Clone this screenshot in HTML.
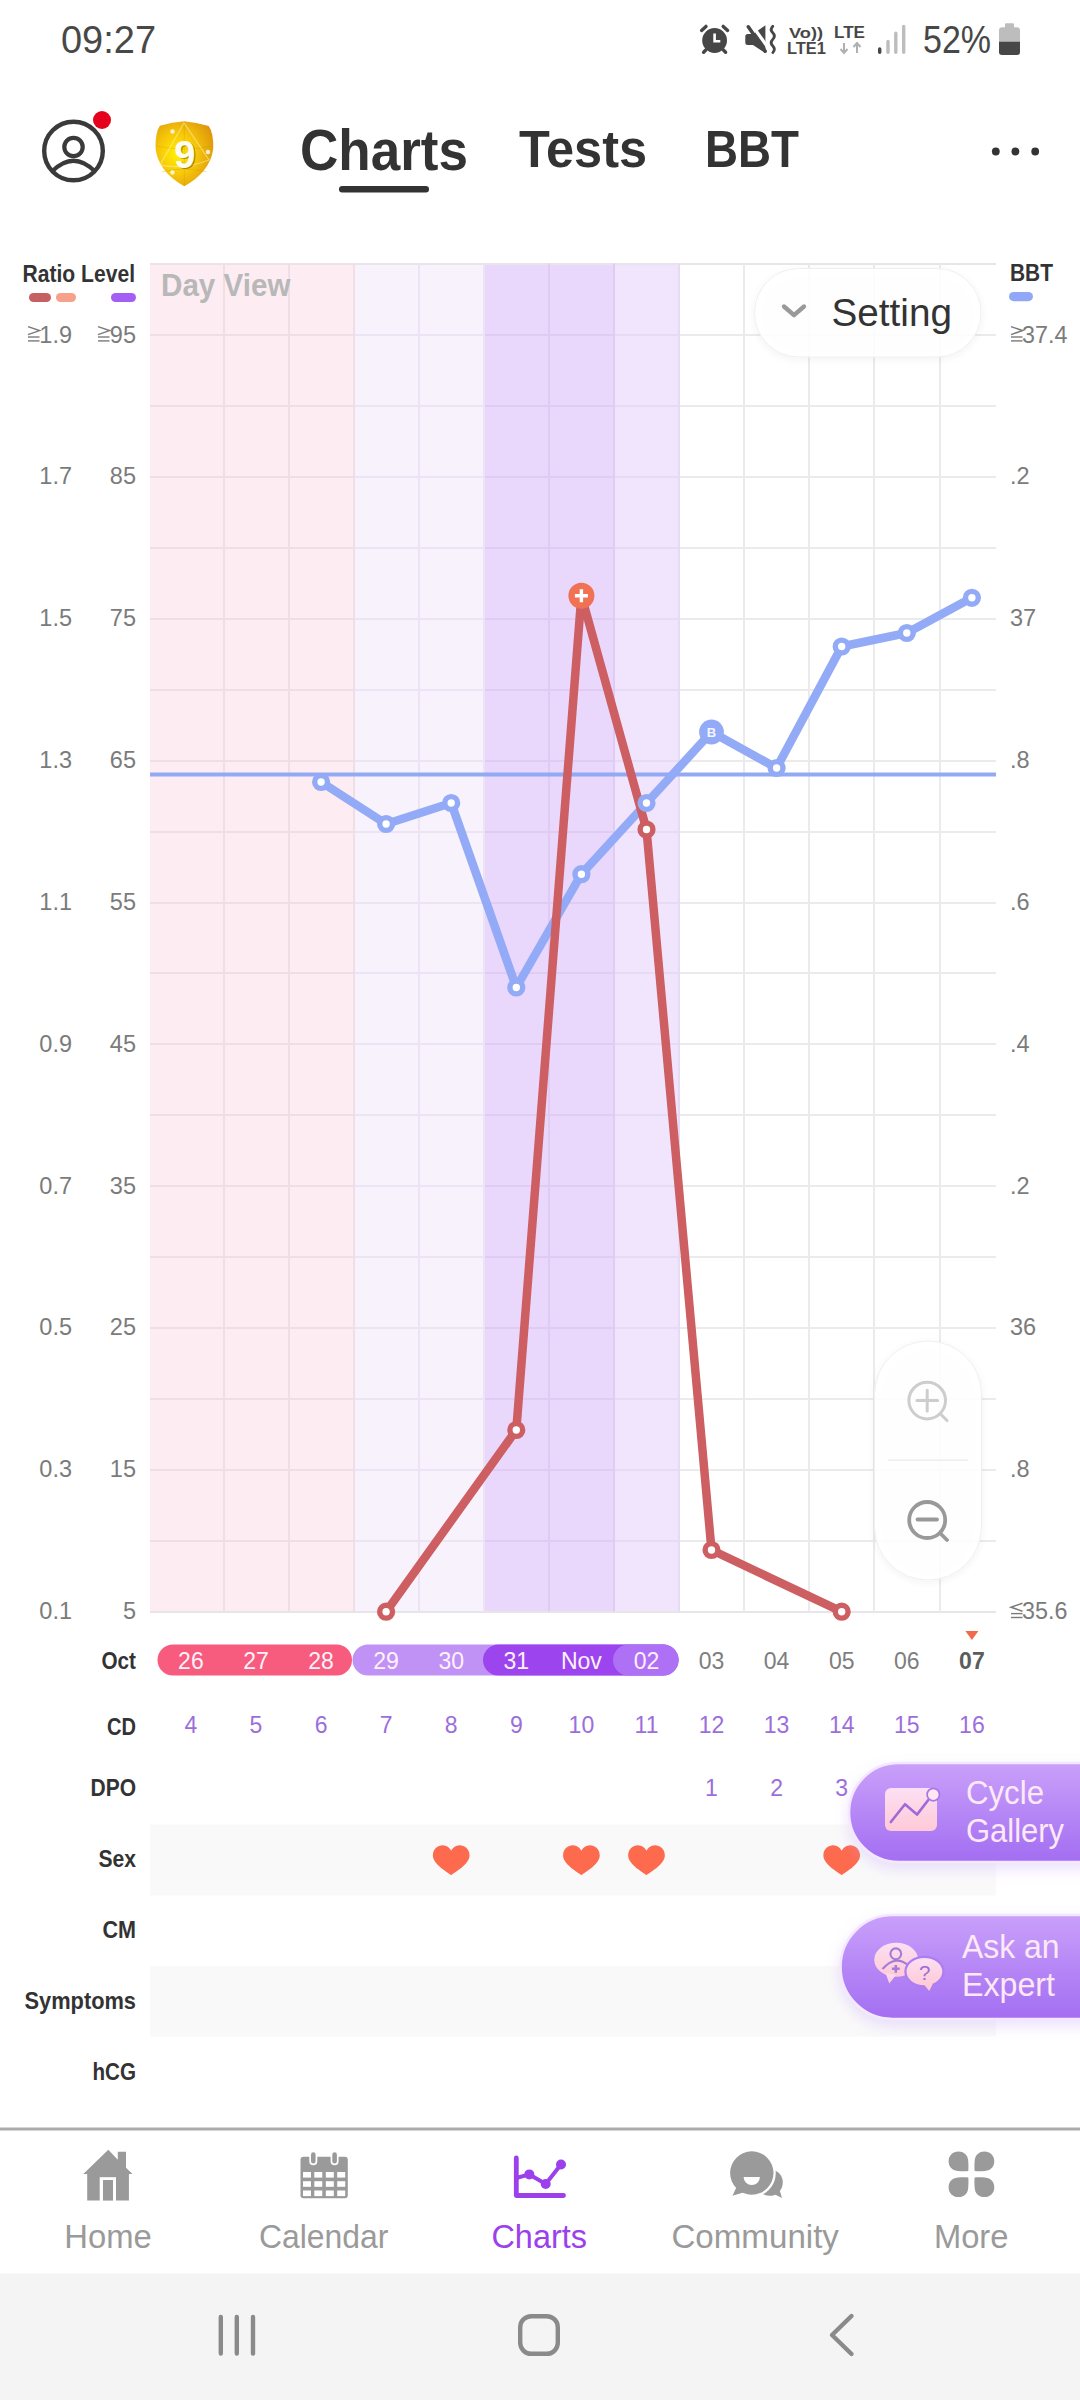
<!DOCTYPE html>
<html><head><meta charset="utf-8">
<style>
html,body{margin:0;padding:0;background:#fff;}
body{width:1080px;height:2400px;overflow:hidden;position:relative;font-family:"Liberation Sans", sans-serif;}
svg{position:absolute;left:0;top:0;}
svg text{font-family:"Liberation Sans", sans-serif;}
</style></head><body>
<svg width="1080" height="2400" viewBox="0 0 1080 2400">
<defs>
<filter id="sh" x="-30%" y="-30%" width="160%" height="160%"><feGaussianBlur in="SourceAlpha" stdDeviation="6"/><feOffset dy="3"/><feComponentTransfer><feFuncA type="linear" slope="0.10"/></feComponentTransfer><feMerge><feMergeNode/><feMergeNode in="SourceGraphic"/></feMerge></filter>
<filter id="sh2" x="-30%" y="-30%" width="160%" height="160%"><feGaussianBlur in="SourceAlpha" stdDeviation="4"/><feOffset dy="2"/><feComponentTransfer><feFuncA type="linear" slope="0.06"/></feComponentTransfer><feMerge><feMergeNode/><feMergeNode in="SourceGraphic"/></feMerge></filter>
<filter id="psh" x="-30%" y="-30%" width="160%" height="160%"><feGaussianBlur in="SourceAlpha" stdDeviation="7"/><feOffset dy="6"/><feColorMatrix type="matrix" values="0 0 0 0 0.6  0 0 0 0 0.4  0 0 0 0 0.95  0 0 0 0.35 0"/><feMerge><feMergeNode/><feMergeNode in="SourceGraphic"/></feMerge></filter>
<linearGradient id="pg" x1="0" y1="0" x2="0" y2="1"><stop offset="0" stop-color="#c9a0fa"/><stop offset="1" stop-color="#a36ef2"/></linearGradient>
<linearGradient id="ig" x1="0" y1="0" x2="0" y2="1"><stop offset="0" stop-color="#fbe0f3"/><stop offset="1" stop-color="#ffc9d6"/></linearGradient>
<radialGradient id="gold" cx="0.38" cy="0.5" r="0.7"><stop offset="0" stop-color="#fff200"/><stop offset="0.45" stop-color="#f7c80a"/><stop offset="1" stop-color="#dc920c"/></radialGradient>
</defs>

<text x="61" y="52.7" font-size="39.5" fill="#484848" font-weight="normal" text-anchor="start" textLength="95" lengthAdjust="spacingAndGlyphs">09:27</text>
<circle cx="714.6" cy="40.5" r="12.4" fill="#474747"/><path d="M701.6,30.4 L706,26.4 M727.6,30.4 L723.2,26.4 M703.6,52.2 L705.8,50 M725.6,52.2 L723.4,50" stroke="#474747" stroke-width="3.4" stroke-linecap="round"/><path d="M714.6,33.6 V41.3 H720.3" stroke="#fff" stroke-width="2.6" fill="none"/>
<path d="M747.8,34 H753 L765.4,25.3 V53.2 L753,45 H747.8 A2.5,2.5 0 0 1 745.3,42.5 V36.5 A2.5,2.5 0 0 1 747.8,34 Z" fill="#474747"/><path d="M751.4,24.2 L768.6,48.4" stroke="#fff" stroke-width="3.2"/><path d="M748.3,26.8 L765.2,51.2" stroke="#474747" stroke-width="3.5" stroke-linecap="round"/><path d="M772.8,26.2 q-3.2,3.3 0,6.6 q3.2,3.3 0,6.6 q-3.2,3.3 0,6.6 q3.2,3.3 0,6.6" stroke="#474747" stroke-width="2.8" fill="none" stroke-linecap="round"/>
<text x="789" y="37.5" font-size="15" fill="#474747" font-weight="bold" text-anchor="start" textLength="34" lengthAdjust="spacingAndGlyphs">Vo))</text>
<text x="787" y="53.7" font-size="17" fill="#474747" font-weight="bold" text-anchor="start" textLength="39" lengthAdjust="spacingAndGlyphs">LTE1</text>
<text x="834" y="37.5" font-size="17" fill="#474747" font-weight="bold" text-anchor="start" textLength="31" lengthAdjust="spacingAndGlyphs">LTE</text>
<path d="M844,43 v10 m-3.5,-4 l3.5,4 l3.5,-4 M857,53 v-10 m-3.5,4 l3.5,-4 l3.5,4" stroke="#b0b0b0" stroke-width="2" fill="none"/>
<path d="M879.7,49 V52.2" stroke="#474747" stroke-width="3.4" stroke-linecap="round"/><path d="M888,41.5 V52.2 M895.8,33.2 V52.2 M903.7,26.5 V52.2" stroke="#bdbdbd" stroke-width="3.4" stroke-linecap="round"/>
<text x="923" y="52.5" font-size="38.5" fill="#474747" font-weight="normal" text-anchor="start" textLength="68" lengthAdjust="spacingAndGlyphs">52%</text>
<rect x="1005" y="23.3" width="9" height="5" rx="1.2" fill="#bdbdbd"/><rect x="999" y="27.3" width="21" height="27.7" rx="3.2" fill="#bdbdbd"/><path d="M999,41.7 h21 v10.1 a3.2,3.2 0 0 1 -3.2,3.2 h-14.6 a3.2,3.2 0 0 1 -3.2,-3.2 z" fill="#474747"/>
<circle cx="73.5" cy="151" r="29.3" fill="none" stroke="#3a3a3a" stroke-width="4.4"/><circle cx="73.5" cy="147" r="9.2" fill="none" stroke="#3a3a3a" stroke-width="4.2"/><path d="M52,171.5 Q73.5,150 95,171.5" fill="none" stroke="#3a3a3a" stroke-width="4.2"/><circle cx="102" cy="120" r="9" fill="#e5001b"/>
<path d="M184.3,121.3 Q196,122.3 208.7,126 Q213.8,133 213.2,149 Q210,172 184.3,186.2 Q158.6,172 155.6,149 Q155,133 159.8,125.7 Q172.6,122.3 184.3,121.3 Z" fill="url(#gold)"/><path d="M184.3,122 L184.3,186 M156,146 Q184,152 213,146 M162,172 Q184,166 207,172" stroke="#c98a00" stroke-width="1" opacity="0.25" fill="none"/><path d="M184,123 L160,165 Q184,170 209,160 Z" stroke="#fff3b0" stroke-width="1.3" opacity="0.5" fill="none"/><circle cx="172.5" cy="131.5" r="2.2" fill="#fff" opacity="0.8"/><circle cx="208" cy="152" r="2.2" fill="#fff" opacity="0.8"/><circle cx="172.5" cy="172.5" r="2.2" fill="#fff" opacity="0.8"/><text x="186.3" y="168.6" font-size="38" fill="#6b5a00" font-weight="bold" text-anchor="middle" opacity="0.55">9</text><text x="184.8" y="167.6" font-size="38" fill="#fffdf2" font-weight="bold" text-anchor="middle">9</text>
<text x="300" y="170" font-size="58" fill="#333333" font-weight="bold" text-anchor="start" textLength="168" lengthAdjust="spacingAndGlyphs">Charts</text>
<text x="519" y="167" font-size="51" fill="#333333" font-weight="bold" text-anchor="start" textLength="128" lengthAdjust="spacingAndGlyphs">Tests</text>
<text x="705" y="167" font-size="51" fill="#333333" font-weight="bold" text-anchor="start" textLength="94" lengthAdjust="spacingAndGlyphs">BBT</text>
<rect x="339" y="186" width="90" height="6.5" rx="3.2" fill="#333333"/>
<circle cx="995.8" cy="151.5" r="3.9" fill="#333"/><circle cx="1015.4" cy="151.5" r="3.9" fill="#333"/><circle cx="1035.2" cy="151.5" r="3.9" fill="#333"/>
<rect x="150" y="263.5" width="204.0" height="1348.0" fill="#fdedf3"/>
<rect x="354.0" y="263.5" width="130.2" height="1348.0" fill="#f8f2fd"/>
<rect x="484.2" y="263.5" width="130.2" height="1348.0" fill="#e9d7fc"/>
<rect x="614.4" y="263.5" width="65.1" height="1348.0" fill="#f1e5fe"/>
<rect x="150" y="263" width="846" height="2" fill="#e8e5ea"/><rect x="150.0" y="334" width="204.0" height="2" fill="#f0dee5"/><rect x="354.0" y="334" width="130.2" height="2" fill="#ece3f5"/><rect x="484.2" y="334" width="130.2" height="2" fill="#dfcbf3"/><rect x="614.4" y="334" width="65.1" height="2" fill="#e7daf7"/><rect x="679.4" y="334" width="316.6" height="2" fill="#ebebeb"/><rect x="150.0" y="405" width="204.0" height="2" fill="#f0dee5"/><rect x="354.0" y="405" width="130.2" height="2" fill="#ece3f5"/><rect x="484.2" y="405" width="130.2" height="2" fill="#dfcbf3"/><rect x="614.4" y="405" width="65.1" height="2" fill="#e7daf7"/><rect x="679.4" y="405" width="316.6" height="2" fill="#ebebeb"/><rect x="150.0" y="476" width="204.0" height="2" fill="#f0dee5"/><rect x="354.0" y="476" width="130.2" height="2" fill="#ece3f5"/><rect x="484.2" y="476" width="130.2" height="2" fill="#dfcbf3"/><rect x="614.4" y="476" width="65.1" height="2" fill="#e7daf7"/><rect x="679.4" y="476" width="316.6" height="2" fill="#ebebeb"/><rect x="150.0" y="547" width="204.0" height="2" fill="#f0dee5"/><rect x="354.0" y="547" width="130.2" height="2" fill="#ece3f5"/><rect x="484.2" y="547" width="130.2" height="2" fill="#dfcbf3"/><rect x="614.4" y="547" width="65.1" height="2" fill="#e7daf7"/><rect x="679.4" y="547" width="316.6" height="2" fill="#ebebeb"/><rect x="150.0" y="618" width="204.0" height="2" fill="#f0dee5"/><rect x="354.0" y="618" width="130.2" height="2" fill="#ece3f5"/><rect x="484.2" y="618" width="130.2" height="2" fill="#dfcbf3"/><rect x="614.4" y="618" width="65.1" height="2" fill="#e7daf7"/><rect x="679.4" y="618" width="316.6" height="2" fill="#ebebeb"/><rect x="150.0" y="689" width="204.0" height="2" fill="#f0dee5"/><rect x="354.0" y="689" width="130.2" height="2" fill="#ece3f5"/><rect x="484.2" y="689" width="130.2" height="2" fill="#dfcbf3"/><rect x="614.4" y="689" width="65.1" height="2" fill="#e7daf7"/><rect x="679.4" y="689" width="316.6" height="2" fill="#ebebeb"/><rect x="150.0" y="760" width="204.0" height="2" fill="#f0dee5"/><rect x="354.0" y="760" width="130.2" height="2" fill="#ece3f5"/><rect x="484.2" y="760" width="130.2" height="2" fill="#dfcbf3"/><rect x="614.4" y="760" width="65.1" height="2" fill="#e7daf7"/><rect x="679.4" y="760" width="316.6" height="2" fill="#ebebeb"/><rect x="150.0" y="831" width="204.0" height="2" fill="#f0dee5"/><rect x="354.0" y="831" width="130.2" height="2" fill="#ece3f5"/><rect x="484.2" y="831" width="130.2" height="2" fill="#dfcbf3"/><rect x="614.4" y="831" width="65.1" height="2" fill="#e7daf7"/><rect x="679.4" y="831" width="316.6" height="2" fill="#ebebeb"/><rect x="150.0" y="902" width="204.0" height="2" fill="#f0dee5"/><rect x="354.0" y="902" width="130.2" height="2" fill="#ece3f5"/><rect x="484.2" y="902" width="130.2" height="2" fill="#dfcbf3"/><rect x="614.4" y="902" width="65.1" height="2" fill="#e7daf7"/><rect x="679.4" y="902" width="316.6" height="2" fill="#ebebeb"/><rect x="150.0" y="972" width="204.0" height="2" fill="#f0dee5"/><rect x="354.0" y="972" width="130.2" height="2" fill="#ece3f5"/><rect x="484.2" y="972" width="130.2" height="2" fill="#dfcbf3"/><rect x="614.4" y="972" width="65.1" height="2" fill="#e7daf7"/><rect x="679.4" y="972" width="316.6" height="2" fill="#ebebeb"/><rect x="150.0" y="1043" width="204.0" height="2" fill="#f0dee5"/><rect x="354.0" y="1043" width="130.2" height="2" fill="#ece3f5"/><rect x="484.2" y="1043" width="130.2" height="2" fill="#dfcbf3"/><rect x="614.4" y="1043" width="65.1" height="2" fill="#e7daf7"/><rect x="679.4" y="1043" width="316.6" height="2" fill="#ebebeb"/><rect x="150.0" y="1114" width="204.0" height="2" fill="#f0dee5"/><rect x="354.0" y="1114" width="130.2" height="2" fill="#ece3f5"/><rect x="484.2" y="1114" width="130.2" height="2" fill="#dfcbf3"/><rect x="614.4" y="1114" width="65.1" height="2" fill="#e7daf7"/><rect x="679.4" y="1114" width="316.6" height="2" fill="#ebebeb"/><rect x="150.0" y="1185" width="204.0" height="2" fill="#f0dee5"/><rect x="354.0" y="1185" width="130.2" height="2" fill="#ece3f5"/><rect x="484.2" y="1185" width="130.2" height="2" fill="#dfcbf3"/><rect x="614.4" y="1185" width="65.1" height="2" fill="#e7daf7"/><rect x="679.4" y="1185" width="316.6" height="2" fill="#ebebeb"/><rect x="150.0" y="1256" width="204.0" height="2" fill="#f0dee5"/><rect x="354.0" y="1256" width="130.2" height="2" fill="#ece3f5"/><rect x="484.2" y="1256" width="130.2" height="2" fill="#dfcbf3"/><rect x="614.4" y="1256" width="65.1" height="2" fill="#e7daf7"/><rect x="679.4" y="1256" width="316.6" height="2" fill="#ebebeb"/><rect x="150.0" y="1327" width="204.0" height="2" fill="#f0dee5"/><rect x="354.0" y="1327" width="130.2" height="2" fill="#ece3f5"/><rect x="484.2" y="1327" width="130.2" height="2" fill="#dfcbf3"/><rect x="614.4" y="1327" width="65.1" height="2" fill="#e7daf7"/><rect x="679.4" y="1327" width="316.6" height="2" fill="#ebebeb"/><rect x="150.0" y="1398" width="204.0" height="2" fill="#f0dee5"/><rect x="354.0" y="1398" width="130.2" height="2" fill="#ece3f5"/><rect x="484.2" y="1398" width="130.2" height="2" fill="#dfcbf3"/><rect x="614.4" y="1398" width="65.1" height="2" fill="#e7daf7"/><rect x="679.4" y="1398" width="316.6" height="2" fill="#ebebeb"/><rect x="150.0" y="1469" width="204.0" height="2" fill="#f0dee5"/><rect x="354.0" y="1469" width="130.2" height="2" fill="#ece3f5"/><rect x="484.2" y="1469" width="130.2" height="2" fill="#dfcbf3"/><rect x="614.4" y="1469" width="65.1" height="2" fill="#e7daf7"/><rect x="679.4" y="1469" width="316.6" height="2" fill="#ebebeb"/><rect x="150.0" y="1540" width="204.0" height="2" fill="#f0dee5"/><rect x="354.0" y="1540" width="130.2" height="2" fill="#ece3f5"/><rect x="484.2" y="1540" width="130.2" height="2" fill="#dfcbf3"/><rect x="614.4" y="1540" width="65.1" height="2" fill="#e7daf7"/><rect x="679.4" y="1540" width="316.6" height="2" fill="#ebebeb"/><rect x="150" y="1611" width="846" height="2" fill="#e8e5ea"/><rect x="223" y="263.5" width="2" height="1348.0" fill="#f0dee5"/><rect x="288" y="263.5" width="2" height="1348.0" fill="#f0dee5"/><rect x="353" y="263.5" width="2" height="1348.0" fill="#f0dee5"/><rect x="418" y="263.5" width="2" height="1348.0" fill="#ece3f5"/><rect x="483" y="263.5" width="2" height="1348.0" fill="#ece3f5"/><rect x="548" y="263.5" width="2" height="1348.0" fill="#dfcbf3"/><rect x="613" y="263.5" width="2" height="1348.0" fill="#dfcbf3"/><rect x="678" y="263.5" width="2" height="1348.0" fill="#e7daf7"/><rect x="743" y="263.5" width="2" height="1348.0" fill="#ebebeb"/><rect x="808" y="263.5" width="2" height="1348.0" fill="#ebebeb"/><rect x="873" y="263.5" width="2" height="1348.0" fill="#ebebeb"/><rect x="939" y="263.5" width="2" height="1348.0" fill="#ebebeb"/>
<path d="M28.0,326.6 L39.5,330.6 L28.0,334.6" fill="none" stroke="#7b7b7b" stroke-width="1.5"/><rect x="28.0" y="336.3" width="11.5" height="1.4" fill="#7b7b7b"/><rect x="28.0" y="340.2" width="11.5" height="1.4" fill="#7b7b7b"/>
<text x="72" y="342.59999999999997" font-size="23.5" fill="#7b7b7b" font-weight="normal" text-anchor="end">1.9</text>
<path d="M98.0,326.6 L109.5,330.6 L98.0,334.6" fill="none" stroke="#7b7b7b" stroke-width="1.5"/><rect x="98.0" y="336.3" width="11.5" height="1.4" fill="#7b7b7b"/><rect x="98.0" y="340.2" width="11.5" height="1.4" fill="#7b7b7b"/>
<text x="136" y="342.59999999999997" font-size="23.5" fill="#7b7b7b" font-weight="normal" text-anchor="end">95</text>
<path d="M1011.0,326.6 L1022.5,330.6 L1011.0,334.6" fill="none" stroke="#7b7b7b" stroke-width="1.5"/><rect x="1011.0" y="336.3" width="11.5" height="1.4" fill="#7b7b7b"/><rect x="1011.0" y="340.2" width="11.5" height="1.4" fill="#7b7b7b"/>
<text x="1022" y="342.59999999999997" font-size="23.3" fill="#7b7b7b" font-weight="normal" text-anchor="start">37.4</text>
<text x="72" y="484.43999999999994" font-size="23.5" fill="#7b7b7b" font-weight="normal" text-anchor="end">1.7</text>
<text x="136" y="484.43999999999994" font-size="23.5" fill="#7b7b7b" font-weight="normal" text-anchor="end">85</text>
<text x="1010" y="484.43999999999994" font-size="23.5" fill="#7b7b7b" font-weight="normal" text-anchor="start">.2</text>
<text x="72" y="626.28" font-size="23.5" fill="#7b7b7b" font-weight="normal" text-anchor="end">1.5</text>
<text x="136" y="626.28" font-size="23.5" fill="#7b7b7b" font-weight="normal" text-anchor="end">75</text>
<text x="1010" y="626.28" font-size="23.5" fill="#7b7b7b" font-weight="normal" text-anchor="start">37</text>
<text x="72" y="768.12" font-size="23.5" fill="#7b7b7b" font-weight="normal" text-anchor="end">1.3</text>
<text x="136" y="768.12" font-size="23.5" fill="#7b7b7b" font-weight="normal" text-anchor="end">65</text>
<text x="1010" y="768.12" font-size="23.5" fill="#7b7b7b" font-weight="normal" text-anchor="start">.8</text>
<text x="72" y="909.9599999999999" font-size="23.5" fill="#7b7b7b" font-weight="normal" text-anchor="end">1.1</text>
<text x="136" y="909.9599999999999" font-size="23.5" fill="#7b7b7b" font-weight="normal" text-anchor="end">55</text>
<text x="1010" y="909.9599999999999" font-size="23.5" fill="#7b7b7b" font-weight="normal" text-anchor="start">.6</text>
<text x="72" y="1051.8000000000002" font-size="23.5" fill="#7b7b7b" font-weight="normal" text-anchor="end">0.9</text>
<text x="136" y="1051.8000000000002" font-size="23.5" fill="#7b7b7b" font-weight="normal" text-anchor="end">45</text>
<text x="1010" y="1051.8000000000002" font-size="23.5" fill="#7b7b7b" font-weight="normal" text-anchor="start">.4</text>
<text x="72" y="1193.64" font-size="23.5" fill="#7b7b7b" font-weight="normal" text-anchor="end">0.7</text>
<text x="136" y="1193.64" font-size="23.5" fill="#7b7b7b" font-weight="normal" text-anchor="end">35</text>
<text x="1010" y="1193.64" font-size="23.5" fill="#7b7b7b" font-weight="normal" text-anchor="start">.2</text>
<text x="72" y="1335.48" font-size="23.5" fill="#7b7b7b" font-weight="normal" text-anchor="end">0.5</text>
<text x="136" y="1335.48" font-size="23.5" fill="#7b7b7b" font-weight="normal" text-anchor="end">25</text>
<text x="1010" y="1335.48" font-size="23.5" fill="#7b7b7b" font-weight="normal" text-anchor="start">36</text>
<text x="72" y="1477.3200000000002" font-size="23.5" fill="#7b7b7b" font-weight="normal" text-anchor="end">0.3</text>
<text x="136" y="1477.3200000000002" font-size="23.5" fill="#7b7b7b" font-weight="normal" text-anchor="end">15</text>
<text x="1010" y="1477.3200000000002" font-size="23.5" fill="#7b7b7b" font-weight="normal" text-anchor="start">.8</text>
<text x="72" y="1619.16" font-size="23.5" fill="#7b7b7b" font-weight="normal" text-anchor="end">0.1</text>
<text x="136" y="1619.16" font-size="23.5" fill="#7b7b7b" font-weight="normal" text-anchor="end">5</text>
<path d="M1022.5,1603.2 L1011.0,1607.2 L1022.5,1611.2" fill="none" stroke="#7b7b7b" stroke-width="1.5"/><rect x="1011.0" y="1612.9" width="11.5" height="1.4" fill="#7b7b7b"/><rect x="1011.0" y="1616.8" width="11.5" height="1.4" fill="#7b7b7b"/>
<text x="1022" y="1619.16" font-size="23.3" fill="#7b7b7b" font-weight="normal" text-anchor="start">35.6</text>
<text x="22.5" y="282.2" font-size="23.8" fill="#333333" font-weight="bold" text-anchor="start" textLength="112.5" lengthAdjust="spacingAndGlyphs">Ratio Level</text>
<rect x="29" y="293" width="22" height="9" rx="4.5" fill="#c65f62"/><rect x="56" y="293" width="20" height="9" rx="4.5" fill="#f7a08a"/><rect x="111" y="293" width="25" height="9" rx="4.5" fill="#a35ff5"/>
<text x="1010" y="280.8" font-size="23.8" fill="#333333" font-weight="bold" text-anchor="start" textLength="43" lengthAdjust="spacingAndGlyphs">BBT</text>
<rect x="1009" y="292" width="24" height="9.2" rx="4.6" fill="#91a8f8"/>
<text x="161" y="296" font-size="32" fill="#b8b8b8" font-weight="bold" text-anchor="start" textLength="129.5" lengthAdjust="spacingAndGlyphs">Day View</text>
<rect x="150" y="772.5" width="846" height="4" fill="#92a9f4"/>
<polyline points="321.1,782.0 386.1,824.0 451.2,803.0 516.3,987.5 581.4,874.2 646.5,803.0 711.5,732.0 776.6,768.0 841.7,646.5 906.8,633.0 971.9,597.8" fill="none" stroke="#93aaf6" stroke-width="8.5" stroke-linejoin="round"/>
<polyline points="386.1,1611.7 516.3,1430.0 581.4,595.7 646.5,829.5 711.5,1550.0 841.7,1611.7" fill="none" stroke="#cd5e61" stroke-width="8.5" stroke-linejoin="round"/>
<circle cx="321.1" cy="782" r="6.4" fill="#fff" stroke="#93aaf6" stroke-width="5.4"/>
<circle cx="386.1" cy="824" r="6.4" fill="#fff" stroke="#93aaf6" stroke-width="5.4"/>
<circle cx="451.2" cy="803" r="6.4" fill="#fff" stroke="#93aaf6" stroke-width="5.4"/>
<circle cx="516.3" cy="987.5" r="6.4" fill="#fff" stroke="#93aaf6" stroke-width="5.4"/>
<circle cx="581.4" cy="874.2" r="6.4" fill="#fff" stroke="#93aaf6" stroke-width="5.4"/>
<circle cx="646.5" cy="803" r="6.4" fill="#fff" stroke="#93aaf6" stroke-width="5.4"/>
<circle cx="711.5" cy="732" r="12.4" fill="#93aaf6"/><text x="711.5" y="736.8" font-size="13" fill="#f4f6ff" font-weight="bold" text-anchor="middle">B</text>
<circle cx="776.6" cy="768" r="6.4" fill="#fff" stroke="#93aaf6" stroke-width="5.4"/>
<circle cx="841.7" cy="646.5" r="6.4" fill="#fff" stroke="#93aaf6" stroke-width="5.4"/>
<circle cx="906.8" cy="633" r="6.4" fill="#fff" stroke="#93aaf6" stroke-width="5.4"/>
<circle cx="971.9" cy="597.8" r="6.4" fill="#fff" stroke="#93aaf6" stroke-width="5.4"/>
<circle cx="386.1" cy="1611.7" r="6.4" fill="#fff" stroke="#cd5e61" stroke-width="5.4"/>
<circle cx="516.3" cy="1430" r="6.4" fill="#fff" stroke="#cd5e61" stroke-width="5.4"/>
<circle cx="581.4" cy="595.7" r="13" fill="#f07153"/><path d="M574.9,595.7 h13 M581.4,589.2 v13" stroke="#fff" stroke-width="3.4"/>
<circle cx="646.5" cy="829.5" r="6.4" fill="#fff" stroke="#cd5e61" stroke-width="5.4"/>
<circle cx="711.5" cy="1550" r="6.4" fill="#fff" stroke="#cd5e61" stroke-width="5.4"/>
<circle cx="841.7" cy="1611.7" r="6.4" fill="#fff" stroke="#cd5e61" stroke-width="5.4"/>
<g filter="url(#sh2)"><rect x="754.5" y="268.5" width="226.5" height="88.5" rx="44.2" fill="#ffffff" fill-opacity="0.88" stroke="#efefef" stroke-width="1"/></g><path d="M784,306.5 L794,315.2 L804,306.5" stroke="#999999" stroke-width="4.4" fill="none" stroke-linecap="round" stroke-linejoin="round"/>
<text x="831.5" y="326" font-size="38" fill="#333333" font-weight="normal" text-anchor="start" textLength="120.5" lengthAdjust="spacingAndGlyphs">Setting</text>
<g filter="url(#sh2)"><rect x="874.5" y="1341" width="107" height="239" rx="53.5" fill="#ffffff" fill-opacity="0.88" stroke="#efefef" stroke-width="1"/></g><rect x="888" y="1459.5" width="80" height="1.3" fill="#ececec"/><circle cx="927.2" cy="1400.6" r="18.3" fill="none" stroke="#cdcdcd" stroke-width="3"/><path d="M917,1400.6 h20.6 M927.2,1390.3 v20.6 M940.5,1414 L947,1420.5" stroke="#cdcdcd" stroke-width="3" stroke-linecap="round"/><circle cx="927.2" cy="1520" r="18" fill="none" stroke="#999999" stroke-width="3.8"/><path d="M917.5,1519.5 h19.5 M940.5,1533.5 L947,1540" stroke="#999999" stroke-width="3.8" stroke-linecap="round"/>
<text x="136" y="1669" font-size="24" fill="#333333" font-weight="bold" text-anchor="end" textLength="34.5" lengthAdjust="spacingAndGlyphs">Oct</text>
<rect x="157.5" y="1644.5" width="194.5" height="31" rx="15.5" fill="#f75b7d"/>
<rect x="352.5" y="1644.5" width="326" height="31" rx="15.5" fill="#c092f6"/>
<rect x="483" y="1644.5" width="195.5" height="31" rx="15.5" fill="#9c45ef"/>
<rect x="613" y="1644.5" width="65.5" height="31" rx="15.5" fill="#ae70f4"/>
<text x="190.9" y="1668.7" font-size="24.5" fill="#fdf1fa" font-weight="normal" text-anchor="middle" textLength="25.61" lengthAdjust="spacingAndGlyphs">26</text>
<text x="256.0" y="1668.7" font-size="24.5" fill="#fdf1fa" font-weight="normal" text-anchor="middle" textLength="25.61" lengthAdjust="spacingAndGlyphs">27</text>
<text x="321.1" y="1668.7" font-size="24.5" fill="#fdf1fa" font-weight="normal" text-anchor="middle" textLength="25.61" lengthAdjust="spacingAndGlyphs">28</text>
<text x="386.1" y="1668.7" font-size="24.5" fill="#fdf1fa" font-weight="normal" text-anchor="middle" textLength="25.61" lengthAdjust="spacingAndGlyphs">29</text>
<text x="451.2" y="1668.7" font-size="24.5" fill="#fdf1fa" font-weight="normal" text-anchor="middle" textLength="25.61" lengthAdjust="spacingAndGlyphs">30</text>
<text x="516.3" y="1668.7" font-size="24.5" fill="#fdf1fa" font-weight="normal" text-anchor="middle" textLength="25.61" lengthAdjust="spacingAndGlyphs">31</text>
<text x="581.4" y="1668.7" font-size="24.5" fill="#fdf1fa" font-weight="normal" text-anchor="middle" textLength="40.95" lengthAdjust="spacingAndGlyphs">Nov</text>
<text x="646.5" y="1668.7" font-size="24.5" fill="#fdf1fa" font-weight="normal" text-anchor="middle" textLength="25.61" lengthAdjust="spacingAndGlyphs">02</text>
<text x="711.5" y="1668.7" font-size="24.5" fill="#7e7e7e" font-weight="normal" text-anchor="middle" textLength="25.61" lengthAdjust="spacingAndGlyphs">03</text>
<text x="776.6" y="1668.7" font-size="24.5" fill="#7e7e7e" font-weight="normal" text-anchor="middle" textLength="25.61" lengthAdjust="spacingAndGlyphs">04</text>
<text x="841.7" y="1668.7" font-size="24.5" fill="#7e7e7e" font-weight="normal" text-anchor="middle" textLength="25.61" lengthAdjust="spacingAndGlyphs">05</text>
<text x="906.8" y="1668.7" font-size="24.5" fill="#7e7e7e" font-weight="normal" text-anchor="middle" textLength="25.61" lengthAdjust="spacingAndGlyphs">06</text>
<text x="971.9" y="1668.7" font-size="24.5" fill="#5c5c5c" font-weight="bold" text-anchor="middle" textLength="25.61" lengthAdjust="spacingAndGlyphs">07</text>
<path d="M965.4,1631 h13 l-6.5,9 z" fill="#f26a4c"/>
<text x="136" y="1735" font-size="24" fill="#333333" font-weight="bold" text-anchor="end" textLength="29" lengthAdjust="spacingAndGlyphs">CD</text>
<text x="190.9" y="1732.7" font-size="24.5" fill="#9c6edb" font-weight="normal" text-anchor="middle" textLength="12.81" lengthAdjust="spacingAndGlyphs">4</text>
<text x="256.0" y="1732.7" font-size="24.5" fill="#9c6edb" font-weight="normal" text-anchor="middle" textLength="12.81" lengthAdjust="spacingAndGlyphs">5</text>
<text x="321.1" y="1732.7" font-size="24.5" fill="#9c6edb" font-weight="normal" text-anchor="middle" textLength="12.81" lengthAdjust="spacingAndGlyphs">6</text>
<text x="386.1" y="1732.7" font-size="24.5" fill="#9c6edb" font-weight="normal" text-anchor="middle" textLength="12.81" lengthAdjust="spacingAndGlyphs">7</text>
<text x="451.2" y="1732.7" font-size="24.5" fill="#9c6edb" font-weight="normal" text-anchor="middle" textLength="12.81" lengthAdjust="spacingAndGlyphs">8</text>
<text x="516.3" y="1732.7" font-size="24.5" fill="#9c6edb" font-weight="normal" text-anchor="middle" textLength="12.81" lengthAdjust="spacingAndGlyphs">9</text>
<text x="581.4" y="1732.7" font-size="24.5" fill="#9c6edb" font-weight="normal" text-anchor="middle" textLength="25.61" lengthAdjust="spacingAndGlyphs">10</text>
<text x="646.5" y="1732.7" font-size="24.5" fill="#9c6edb" font-weight="normal" text-anchor="middle" textLength="23.91" lengthAdjust="spacingAndGlyphs">11</text>
<text x="711.5" y="1732.7" font-size="24.5" fill="#9c6edb" font-weight="normal" text-anchor="middle" textLength="25.61" lengthAdjust="spacingAndGlyphs">12</text>
<text x="776.6" y="1732.7" font-size="24.5" fill="#9c6edb" font-weight="normal" text-anchor="middle" textLength="25.61" lengthAdjust="spacingAndGlyphs">13</text>
<text x="841.7" y="1732.7" font-size="24.5" fill="#9c6edb" font-weight="normal" text-anchor="middle" textLength="25.61" lengthAdjust="spacingAndGlyphs">14</text>
<text x="906.8" y="1732.7" font-size="24.5" fill="#9c6edb" font-weight="normal" text-anchor="middle" textLength="25.61" lengthAdjust="spacingAndGlyphs">15</text>
<text x="971.9" y="1732.7" font-size="24.5" fill="#9c6edb" font-weight="normal" text-anchor="middle" textLength="25.61" lengthAdjust="spacingAndGlyphs">16</text>
<text x="136" y="1796.4" font-size="24" fill="#333333" font-weight="bold" text-anchor="end" textLength="45.5" lengthAdjust="spacingAndGlyphs">DPO</text>
<text x="711.5" y="1795.8" font-size="24.5" fill="#9c6edb" font-weight="normal" text-anchor="middle" textLength="12.81" lengthAdjust="spacingAndGlyphs">1</text>
<text x="776.6" y="1795.8" font-size="24.5" fill="#9c6edb" font-weight="normal" text-anchor="middle" textLength="12.81" lengthAdjust="spacingAndGlyphs">2</text>
<text x="841.7" y="1795.8" font-size="24.5" fill="#9c6edb" font-weight="normal" text-anchor="middle" textLength="12.81" lengthAdjust="spacingAndGlyphs">3</text>
<rect x="150" y="1824.5" width="846" height="71" fill="#f9f9f9"/>
<text x="136" y="1867.3" font-size="24" fill="#333333" font-weight="bold" text-anchor="end" textLength="37.5" lengthAdjust="spacingAndGlyphs">Sex</text>
<path transform="translate(451.2,1860.3) scale(0.965)" d="M0,15.5 C-4,12 -19,4 -19,-5 C-19,-12 -13.5,-15.5 -9,-15.5 C-4.5,-15.5 -1.5,-12.5 0,-10 C1.5,-12.5 4.5,-15.5 9,-15.5 C13.5,-15.5 19,-12 19,-5 C19,4 4,12 0,15.5 Z" fill="#fd6a4e"/>
<path transform="translate(581.4,1860.3) scale(0.965)" d="M0,15.5 C-4,12 -19,4 -19,-5 C-19,-12 -13.5,-15.5 -9,-15.5 C-4.5,-15.5 -1.5,-12.5 0,-10 C1.5,-12.5 4.5,-15.5 9,-15.5 C13.5,-15.5 19,-12 19,-5 C19,4 4,12 0,15.5 Z" fill="#fd6a4e"/>
<path transform="translate(646.5,1860.3) scale(0.965)" d="M0,15.5 C-4,12 -19,4 -19,-5 C-19,-12 -13.5,-15.5 -9,-15.5 C-4.5,-15.5 -1.5,-12.5 0,-10 C1.5,-12.5 4.5,-15.5 9,-15.5 C13.5,-15.5 19,-12 19,-5 C19,4 4,12 0,15.5 Z" fill="#fd6a4e"/>
<path transform="translate(841.7,1860.3) scale(0.965)" d="M0,15.5 C-4,12 -19,4 -19,-5 C-19,-12 -13.5,-15.5 -9,-15.5 C-4.5,-15.5 -1.5,-12.5 0,-10 C1.5,-12.5 4.5,-15.5 9,-15.5 C13.5,-15.5 19,-12 19,-5 C19,4 4,12 0,15.5 Z" fill="#fd6a4e"/>
<text x="136" y="1938" font-size="24" fill="#333333" font-weight="bold" text-anchor="end" textLength="33.5" lengthAdjust="spacingAndGlyphs">CM</text>
<rect x="150" y="1966" width="846" height="70.5" fill="#f9f9f9"/>
<text x="136" y="2008.8" font-size="24" fill="#333333" font-weight="bold" text-anchor="end" textLength="111.5" lengthAdjust="spacingAndGlyphs">Symptoms</text>
<text x="136" y="2079.6" font-size="24" fill="#333333" font-weight="bold" text-anchor="end" textLength="43.5" lengthAdjust="spacingAndGlyphs">hCG</text>
<g filter="url(#psh)"><rect x="849" y="1763" width="300" height="99" rx="49.5" fill="url(#pg)" stroke="#f3e8ff" stroke-width="2.6"/></g>
<rect x="885" y="1788" width="52" height="43" rx="6" fill="url(#ig)"/><path d="M890.8,1822 L905,1804.2 L917,1814.6 L928.3,1800" stroke="#9f6ad8" stroke-width="2.6" fill="none" stroke-linecap="round" stroke-linejoin="round"/><circle cx="933.3" cy="1794.6" r="6.2" fill="#ffe6f2" stroke="#a877ea" stroke-width="1.8"/>
<text x="966" y="1803.8" font-size="32.5" fill="#fde8f6" font-weight="normal" text-anchor="start" textLength="78" lengthAdjust="spacingAndGlyphs">Cycle</text>
<text x="966" y="1842.3" font-size="32.5" fill="#fde8f6" font-weight="normal" text-anchor="start" textLength="98" lengthAdjust="spacingAndGlyphs">Gallery</text>
<g filter="url(#psh)"><rect x="840.5" y="1915" width="300" height="104" rx="52" fill="url(#pg)" stroke="#f3e8ff" stroke-width="2.6"/></g>
<ellipse cx="896.2" cy="1959.8" rx="22" ry="17" fill="url(#ig)"/><path d="M885.5,1973 L889.3,1983.5 L896,1975 Z" fill="url(#ig)"/><circle cx="895.8" cy="1953.8" r="5.4" fill="none" stroke="#a47bd6" stroke-width="2.1"/><path d="M882.5,1969 Q895.8,1954 909,1966" fill="none" stroke="#a47bd6" stroke-width="2.1"/><path d="M891.9,1968.8 h7.8 M895.8,1964.9 v7.8" stroke="#a47bd6" stroke-width="2.5"/><ellipse cx="924.4" cy="1971.6" rx="19" ry="14.8" fill="url(#ig)" stroke="#ad7ef1" stroke-width="2.2"/><path d="M924,1984.5 L929.2,1991 L933,1983.5 Z" fill="#ffcad6"/><text x="924.6" y="1979.6" font-size="20.5" fill="#9d6cd3" font-weight="normal" text-anchor="middle">?</text>
<text x="962" y="1958" font-size="32.5" fill="#fde8f6" font-weight="normal" text-anchor="start" textLength="97.5" lengthAdjust="spacingAndGlyphs">Ask an</text>
<text x="962" y="1996.4" font-size="32.5" fill="#fde8f6" font-weight="normal" text-anchor="start" textLength="93" lengthAdjust="spacingAndGlyphs">Expert</text>
<rect x="0" y="2127.5" width="1080" height="3" fill="#ababab"/>
<path d="M108.3,2149.7 L83.3,2174 H87.2 V2200.5 H128.9 V2174 H132.5 L126,2167.7 V2151.7 H117.8 V2159.7 Z" fill="#9a9a9a"/><rect x="99.7" y="2177.2" width="16.3" height="24" fill="#fff"/><rect x="103" y="2180" width="10" height="20.6" fill="#9a9a9a"/>
<rect x="300.5" y="2156.7" width="47.3" height="41.6" rx="3" fill="#9a9a9a"/>
<rect x="303" y="2172" width="8" height="5.6" fill="#fff"/><rect x="303" y="2181.2" width="8" height="5.6" fill="#fff"/><rect x="303" y="2190.5" width="8" height="5.6" fill="#fff"/><rect x="314.3" y="2172" width="8" height="5.6" fill="#fff"/><rect x="314.3" y="2181.2" width="8" height="5.6" fill="#fff"/><rect x="314.3" y="2190.5" width="8" height="5.6" fill="#fff"/><rect x="325.8" y="2172" width="8" height="5.6" fill="#fff"/><rect x="325.8" y="2181.2" width="8" height="5.6" fill="#fff"/><rect x="325.8" y="2190.5" width="8" height="5.6" fill="#fff"/><rect x="337.2" y="2172" width="8" height="5.6" fill="#fff"/><rect x="337.2" y="2181.2" width="8" height="5.6" fill="#fff"/><rect x="337.2" y="2190.5" width="8" height="5.6" fill="#fff"/>
<rect x="310.15" y="2151.5" width="6.3" height="12.8" rx="3.15" fill="#9a9a9a" stroke="#fff" stroke-width="1.7"/><rect x="331.45" y="2151.5" width="6.3" height="12.8" rx="3.15" fill="#9a9a9a" stroke="#fff" stroke-width="1.7"/>
<path d="M516.3,2158 V2195.5 H563.5" stroke="#9b40ea" stroke-width="4.8" fill="none" stroke-linecap="round" stroke-linejoin="round"/><path d="M516.3,2178 L529.3,2174.4 L545.7,2184 L561,2164.5" stroke="#9b40ea" stroke-width="4" fill="none"/><circle cx="529.3" cy="2174.4" r="5" fill="#9b40ea"/><circle cx="545.7" cy="2184" r="5" fill="#9b40ea"/><circle cx="561" cy="2164.5" r="5" fill="#9b40ea"/>
<circle cx="769.5" cy="2182.5" r="13.3" fill="#9a9a9a"/><path d="M772,2193 L782,2198 L779,2188 z" fill="#9a9a9a"/><circle cx="751.8" cy="2173" r="24" fill="#fff"/><path d="M737,2186 L732.5,2195.8 L745,2192 z" fill="#9a9a9a"/><circle cx="751.8" cy="2173" r="21.7" fill="#9a9a9a"/><path d="M743.6,2176.9 h16.3 a8.15,8.15 0 0 1 -16.3,0 z" fill="#fff"/>
<path transform="translate(968.3,2171.1) scale(1,1)" d="M0,0 C-3,0.4 -8,0.3 -10.5,0 C-16.5,-0.6 -19.7,-4.5 -19.7,-10 C-19.7,-15.6 -15.4,-19.7 -9.8,-19.7 C-4.5,-19.7 -0.5,-16.3 -0.1,-10.5 C0.2,-7 0.3,-3 0,0 Z" fill="#9a9a9a"/><path transform="translate(974.6,2171.1) scale(-1,1)" d="M0,0 C-3,0.4 -8,0.3 -10.5,0 C-16.5,-0.6 -19.7,-4.5 -19.7,-10 C-19.7,-15.6 -15.4,-19.7 -9.8,-19.7 C-4.5,-19.7 -0.5,-16.3 -0.1,-10.5 C0.2,-7 0.3,-3 0,0 Z" fill="#9a9a9a"/><path transform="translate(968.3,2177.4) scale(1,-1)" d="M0,0 C-3,0.4 -8,0.3 -10.5,0 C-16.5,-0.6 -19.7,-4.5 -19.7,-10 C-19.7,-15.6 -15.4,-19.7 -9.8,-19.7 C-4.5,-19.7 -0.5,-16.3 -0.1,-10.5 C0.2,-7 0.3,-3 0,0 Z" fill="#9a9a9a"/><path transform="translate(974.6,2177.4) scale(-1,-1)" d="M0,0 C-3,0.4 -8,0.3 -10.5,0 C-16.5,-0.6 -19.7,-4.5 -19.7,-10 C-19.7,-15.6 -15.4,-19.7 -9.8,-19.7 C-4.5,-19.7 -0.5,-16.3 -0.1,-10.5 C0.2,-7 0.3,-3 0,0 Z" fill="#9a9a9a"/>
<text x="108" y="2247.5" font-size="33" fill="#9a9a9a" font-weight="normal" text-anchor="middle" textLength="87.5" lengthAdjust="spacingAndGlyphs">Home</text>
<text x="323.7" y="2247.5" font-size="33" fill="#9a9a9a" font-weight="normal" text-anchor="middle" textLength="129.5" lengthAdjust="spacingAndGlyphs">Calendar</text>
<text x="539.2" y="2247.5" font-size="33" fill="#9b40ea" font-weight="normal" text-anchor="middle" textLength="95.5" lengthAdjust="spacingAndGlyphs">Charts</text>
<text x="755.2" y="2247.5" font-size="33" fill="#9a9a9a" font-weight="normal" text-anchor="middle" textLength="167.5" lengthAdjust="spacingAndGlyphs">Community</text>
<text x="971.2" y="2247.5" font-size="33" fill="#9a9a9a" font-weight="normal" text-anchor="middle" textLength="74.5" lengthAdjust="spacingAndGlyphs">More</text>
<rect x="0" y="2273.5" width="1080" height="126.5" fill="#f4f4f4"/>
<path d="M220.8,2317 v36.6 M236.8,2317 v36.6 M253,2317 v36.6" stroke="#8a8a8a" stroke-width="4.4" stroke-linecap="round"/><rect x="520.2" y="2316.2" width="37.6" height="37.6" rx="11" fill="none" stroke="#8a8a8a" stroke-width="4.4"/><path d="M851.5,2316 L832,2335 L851.5,2354" stroke="#8a8a8a" stroke-width="4.4" fill="none" stroke-linecap="round" stroke-linejoin="round"/>
</svg></body></html>
